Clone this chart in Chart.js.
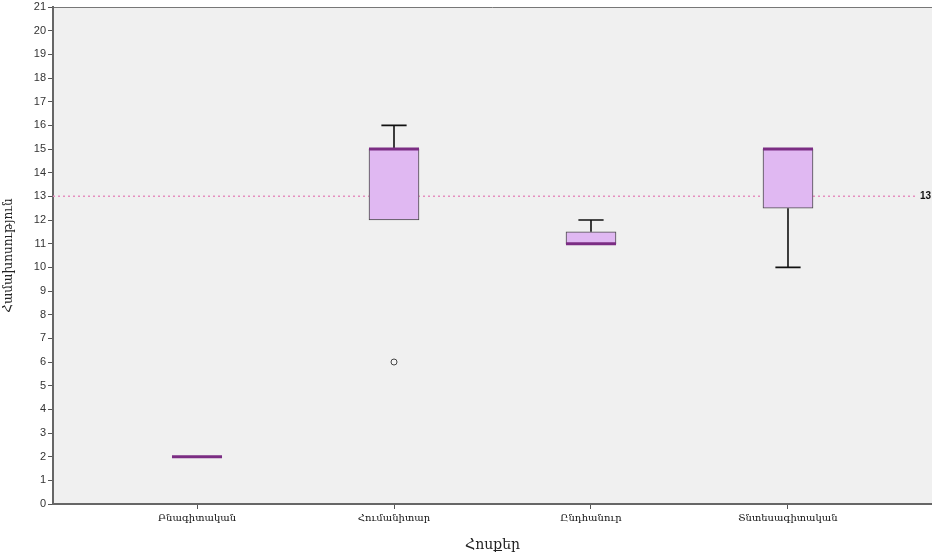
<!DOCTYPE html>
<html>
<head>
<meta charset="utf-8">
<script src="https://cdn.jsdelivr.net/npm/chart.js@4/dist/chart.umd.min.js"></script>
<style>
  html, body { margin: 0; padding: 0; background: #fff; overflow: hidden; }
  #wrap { width: 932px; height: 554px; overflow: hidden; }
  #box { display: block; }
</style>
</head>
<body>
<div id="wrap"><canvas id="box" width="937" height="554"></canvas></div>
<script>
"use strict";

// boxplot summary per stream
const categories = ["Բնագիտական", "Հումանիտար", "Ընդհանուր", "Տնտեսագիտական"];
const whiskerLow = [2, 12, 11, 10];
const q1 = [2, 12, 11, 12.5];
const median = [2, 15, 11, 15];
const q3 = [2, 15, 11.5, 15];
const whiskerHigh = [2, 16, 12, 15];
const outliers = [[], [6], [], []];
const refValue = 13;
const yMin = 0;
const yMax = 21;

const armFont = "'DejaVu Serif', 'DejaVu Sans', serif";
const boxHalf = 0.127;
const capHalf = 0.064;

const boxData = categories.map((c, i) => ({ x: i + 1, y: [q1[i], q3[i]] }));

const whiskerData = [];
const medianData = [];
const outlierData = [];
categories.forEach((c, i) => {
    const x = i + 1;
    if (whiskerHigh[i] > q3[i]) {
        whiskerData.push({ x: x, y: q3[i] }, { x: x, y: whiskerHigh[i] }, { x: null, y: null });
        whiskerData.push({ x: x - capHalf, y: whiskerHigh[i] }, { x: x + capHalf, y: whiskerHigh[i] }, { x: null, y: null });
    }
    if (whiskerLow[i] < q1[i]) {
        whiskerData.push({ x: x, y: q1[i] }, { x: x, y: whiskerLow[i] }, { x: null, y: null });
        whiskerData.push({ x: x - capHalf, y: whiskerLow[i] }, { x: x + capHalf, y: whiskerLow[i] }, { x: null, y: null });
    }
    medianData.push({ x: x - boxHalf, y: median[i] }, { x: x + boxHalf, y: median[i] }, { x: null, y: null });
    outliers[i].forEach(v => outlierData.push({ x: x, y: v }));
});

const xMin = 0.269;
const xMax = 4.731;
const refData = [{ x: xMin, y: refValue }, { x: 4.655, y: refValue }];

const framePlugin = {
    id: "frame",
    beforeDraw(chart) {
        const a = chart.chartArea;
        const ctx = chart.ctx;
        ctx.save();
        ctx.fillStyle = "#f0f0f0";
        ctx.fillRect(a.left, a.top, a.right - a.left, a.bottom - a.top);
        ctx.strokeStyle = "#777";
        ctx.lineWidth = 1;
        ctx.beginPath();
        ctx.moveTo(a.left, a.top + 0.5);
        ctx.lineTo(a.right, a.top + 0.5);
        ctx.stroke();
        ctx.restore();
    },
    afterDatasetsDraw(chart) {
        const ctx = chart.ctx;
        ctx.save();
        ctx.font = "bold 10px 'Liberation Sans', Arial, sans-serif";
        ctx.fillStyle = "#111";
        ctx.textAlign = "left";
        ctx.textBaseline = "middle";
        ctx.fillText(String(refValue), chart.scales.x.getPixelForValue(4.67), chart.scales.y.getPixelForValue(refValue));
        ctx.restore();
    }
};

new Chart(document.getElementById("box").getContext("2d"), {
    type: "bar",
    data: {
        datasets: [
            {
                type: "scatter",
                data: refData,
                showLine: true,
                borderColor: "#e58fbf",
                borderWidth: 1.5,
                borderDash: [2, 3],
                pointRadius: 0,
                order: 5
            },
            {
                type: "bar",
                data: boxData,
                backgroundColor: "#e0b8f2",
                borderColor: "#4a4a4a",
                borderWidth: 1,
                borderSkipped: false,
                barThickness: 50,
                grouped: false,
                order: 4
            },
            {
                type: "scatter",
                data: whiskerData,
                showLine: true,
                spanGaps: false,
                borderColor: "#111",
                borderWidth: 1.6,
                pointRadius: 0,
                order: 3
            },
            {
                type: "scatter",
                data: medianData,
                showLine: true,
                spanGaps: false,
                borderColor: "#7b2d83",
                borderWidth: 3,
                pointRadius: 0,
                order: 2
            },
            {
                type: "scatter",
                data: outlierData,
                pointRadius: 3,
                pointBackgroundColor: "#f4f4f4",
                pointBorderColor: "#444",
                pointBorderWidth: 1,
                order: 1
            }
        ]
    },
    options: {
        responsive: false,
        animation: false,
        layout: { padding: { top: 7, right: 0, left: 0, bottom: 0 } },
        plugins: {
            legend: { display: false },
            tooltip: { enabled: false }
        },
        scales: {
            x: {
                type: "linear",
                min: xMin,
                max: xMax,
                offset: false,
                afterBuildTicks(scale) {
                    scale.ticks = categories.map((c, i) => ({ value: i + 1 }));
                },
                afterFit(scale) {
                    scale.height = 50;
                    scale.paddingLeft = 0;
                    scale.paddingRight = 0;
                },
                ticks: {
                    autoSkip: false,
                    maxRotation: 0,
                    padding: 3,
                    color: "#111",
                    font: { family: armFont, size: 10 },
                    callback: v => categories[v - 1] || ""
                },
                grid: {
                    offset: false,
                    drawOnChartArea: false,
                    drawTicks: true,
                    tickLength: 5,
                    color: "#555"
                },
                border: { display: true, color: "#666", width: 2 },
                title: {
                    display: true,
                    text: "Հոսքեր",
                    color: "#222",
                    font: { family: armFont, size: 14 },
                    padding: { top: 3, bottom: 0 }
                }
            },
            y: {
                min: yMin,
                max: yMax,
                afterFit(scale) {
                    scale.width = 53;
                    scale.paddingTop = 0;
                    scale.paddingBottom = 0;
                },
                ticks: {
                    stepSize: 1,
                    padding: 2,
                    color: "#333",
                    font: { family: "'Liberation Sans', Arial, sans-serif", size: 11 }
                },
                grid: {
                    drawOnChartArea: false,
                    drawTicks: true,
                    tickLength: 5,
                    color: "#555"
                },
                border: { display: true, color: "#666", width: 2 },
                title: {
                    display: true,
                    text: "Համախոսություն",
                    color: "#222",
                    font: { family: armFont, size: 12 },
                    padding: { top: 2, bottom: 4 }
                }
            }
        }
    },
    plugins: [framePlugin]
});
</script>
</body>
</html>
